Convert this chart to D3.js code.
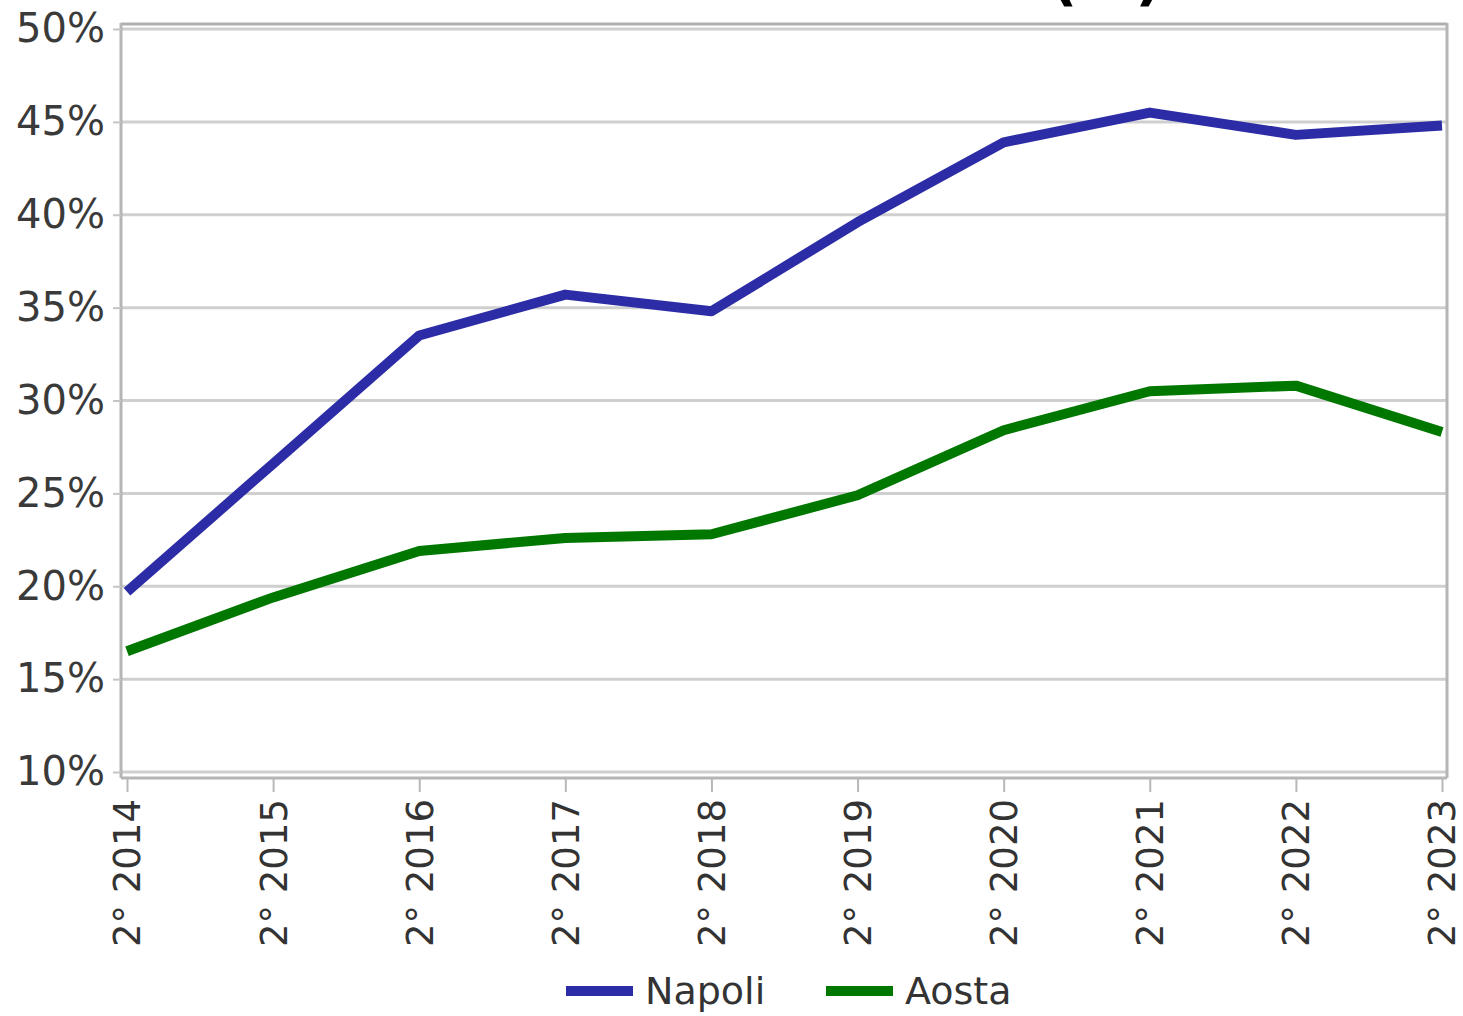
<!DOCTYPE html>
<html><head><meta charset="utf-8">
<script src="https://cdn.jsdelivr.net/npm/d3@7"></script>
<style>body{margin:0;background:#fff;}svg{display:block;}</style>
</head><body>
<script>
const categories = ["2° 2014","2° 2015","2° 2016","2° 2017","2° 2018","2° 2019","2° 2020","2° 2021","2° 2022","2° 2023"];
const napoli = [19.7, 26.6, 33.5, 35.7, 34.8, 39.6, 43.9, 45.5, 44.3, 44.8];
const aosta  = [16.5, 19.4, 21.9, 22.6, 22.8, 24.9, 28.4, 30.5, 30.8, 28.3];
const yTicks = [10, 15, 20, 25, 30, 35, 40, 45, 50];
const seriesNames = ["Napoli", "Aosta"];
const seriesColors = ["#2c2ca6", "#007800"];

const W = 1463, H = 1016;
const svg = d3.select("body").append("svg").attr("width", W).attr("height", H);
const font = "DejaVu Sans, sans-serif";

const plotL = 121, plotR = 1447, plotT = 29, plotB = 772;
const x = d3.scalePoint().domain(categories).range([127, 1442]);
const y = d3.scaleLinear().domain([10, 50]).range([plotB, plotT]);

// title fragment (cut off at top, as in the reference)
svg.append("text").attr("x", 1162).attr("y", -1).attr("text-anchor", "end")
  .attr("font-family", font).attr("font-weight", "bold").attr("font-size", 58)
  .attr("fill", "#000").text("(%)");

// gridlines
svg.append("g").selectAll("line").data(yTicks).join("line")
  .attr("x1", plotL).attr("x2", plotR)
  .attr("y1", d => y(d)).attr("y2", d => y(d))
  .attr("stroke", "#cfcfcf").attr("stroke-width", 3);

// frame
svg.append("line").attr("x1", plotL).attr("x2", plotR).attr("y1", plotT - 5).attr("y2", plotT - 5)
  .attr("stroke", "#b0b0b0").attr("stroke-width", 3);
svg.append("line").attr("x1", plotR).attr("x2", plotR).attr("y1", plotT - 6).attr("y2", plotB + 6)
  .attr("stroke", "#b5b5b5").attr("stroke-width", 3);

// y axis
const yAxis = d3.axisLeft(y).tickValues(yTicks).tickFormat(d => d + "%").tickSize(8).tickPadding(8);
const gy = svg.append("g").attr("transform", `translate(${plotL},0)`).call(yAxis);
gy.select(".domain").attr("stroke", "#b5b5b5").attr("stroke-width", 3).attr("d", `M0,${plotT - 6}V${plotB + 6}`);
gy.selectAll(".tick line").attr("stroke", "#c5c5c5").attr("stroke-width", 2);
gy.selectAll("text").attr("font-family", font).attr("font-size", 40).attr("fill", "#3a3a3a");

// x axis
const xAxis = d3.axisBottom(x).tickSize(14).tickPadding(6);
const gx = svg.append("g").attr("transform", `translate(0,${plotB + 6})`).call(xAxis);
gx.select(".domain").attr("stroke", "#b5b5b5").attr("stroke-width", 3).attr("d", `M${plotL},0H${plotR}`);
gx.selectAll(".tick line").attr("stroke", "#b8b8b8").attr("stroke-width", 2);
gx.selectAll("text").attr("font-family", font).attr("font-size", 37).attr("fill", "#333")
  .attr("text-anchor", "end").attr("dy", "0.35em")
  .attr("transform", "translate(0,21) rotate(-90)").attr("x", 0).attr("y", 0);

// lines
const line = d3.line().x((d, i) => x(categories[i])).y(d => y(d));
[napoli, aosta].forEach((s, k) => {
  svg.append("path").datum(s).attr("d", line).attr("fill", "none")
    .attr("stroke", seriesColors[k]).attr("stroke-width", 10).attr("stroke-linejoin", "round");
});

// legend
const legX = [566, 826];
seriesNames.forEach((n, k) => {
  const g = svg.append("g").attr("transform", `translate(${legX[k]},991)`);
  g.append("line").attr("x1", 0).attr("x2", 67).attr("y1", 0).attr("y2", 0)
    .attr("stroke", seriesColors[k]).attr("stroke-width", 10);
  g.append("text").attr("x", 79).attr("y", 0).attr("dy", "0.35em")
    .attr("font-family", font).attr("font-size", 38).attr("fill", "#333").text(n);
});
</script>
</body></html>
